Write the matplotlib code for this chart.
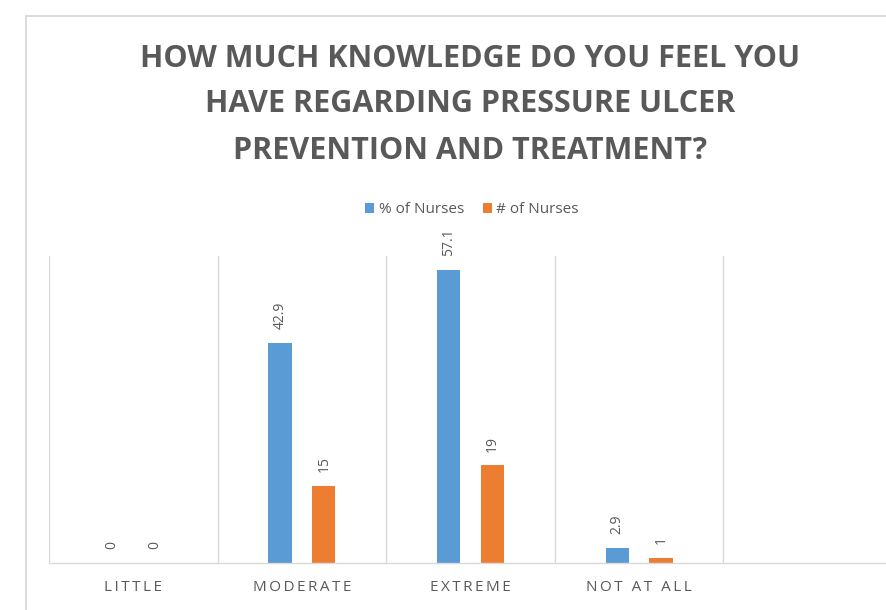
import numpy as np
import matplotlib.pyplot as plt
from matplotlib.patches import Rectangle

categories = ["LITTLE", "MODERATE", "EXTREME", "NOT AT ALL", ""]
pct_nurses = [0, 42.9, 57.1, 2.9, None]
num_nurses = [0, 15, 19, 1, None]
title_lines = ["HOW MUCH KNOWLEDGE DO YOU FEEL YOU",
               "HAVE REGARDING PRESSURE ULCER",
               "PREVENTION AND TREATMENT?"]

blue = "#5B9BD5"
orange = "#ED7D31"
grey = "#595959"
grid = "#D9D9D9"

plt.rcParams['font.family'] = ['Open Sans', 'DejaVu Sans']

fig = plt.figure(figsize=(8.86, 6.10), dpi=100)

# chart frame (cropped screenshot: only top and left edges visible)
fig.patches.append(Rectangle((26 / 886, -0.1), 1.2, 1 - 16 / 610 + 0.1,
                             transform=fig.transFigure, fill=False,
                             edgecolor=grid, lw=1.3))

ax = fig.add_axes([49 / 886, 1 - 563 / 610, 843 / 886, (563 - 256) / 610])

x = np.arange(len(categories))
w = 0.137
off = 0.13
for vals, shift, col, lab in [(pct_nurses, -off, blue, "% of Nurses"),
                              (num_nurses, off, orange, "# of Nurses")]:
    xs = [xi + shift for xi, v in zip(x, vals) if v is not None]
    vs = [v for v in vals if v is not None]
    ax.bar(xs, vs, width=w, color=col, label=lab)
    for xi, v in zip(xs, vs):
        ax.annotate(f"{v:g}", (xi, v), xytext=(0, 10), textcoords="offset points",
                    rotation=90, ha="center", va="bottom", fontsize=10, color=grey)

ax.set_xlim(-0.5, len(categories) - 0.5)
ax.set_ylim(0, 59.8)
for b in np.arange(-0.5, len(categories), 1.0):
    ax.axvline(b, color=grid, lw=1, zorder=0)

spaced = ["\u2009".join(c) for c in categories]
ax.set_xticks(x)
ax.set_xticklabels(spaced, fontsize=11, color=grey)
ax.tick_params(axis="x", length=0, pad=12)
ax.set_yticks([])
for s in ["top", "left", "right"]:
    ax.spines[s].set_visible(False)
ax.spines["bottom"].set_color(grid)
ax.spines["bottom"].set_linewidth(1)

ys = [59, 104, 151]
for t, y in zip(title_lines, ys):
    fig.text(470 / 886, 1 - y / 610, t, ha="center", va="center",
             fontsize=22, fontweight="bold", color=grey)

fig.legend(loc="center", bbox_to_anchor=(472 / 886, 1 - 210 / 610), ncol=2,
           frameon=False, fontsize=11, labelcolor=grey, handlelength=0.6,
           handleheight=0.6, handletextpad=0.3, columnspacing=1.2)

fig.savefig("out.png", dpi=100)
